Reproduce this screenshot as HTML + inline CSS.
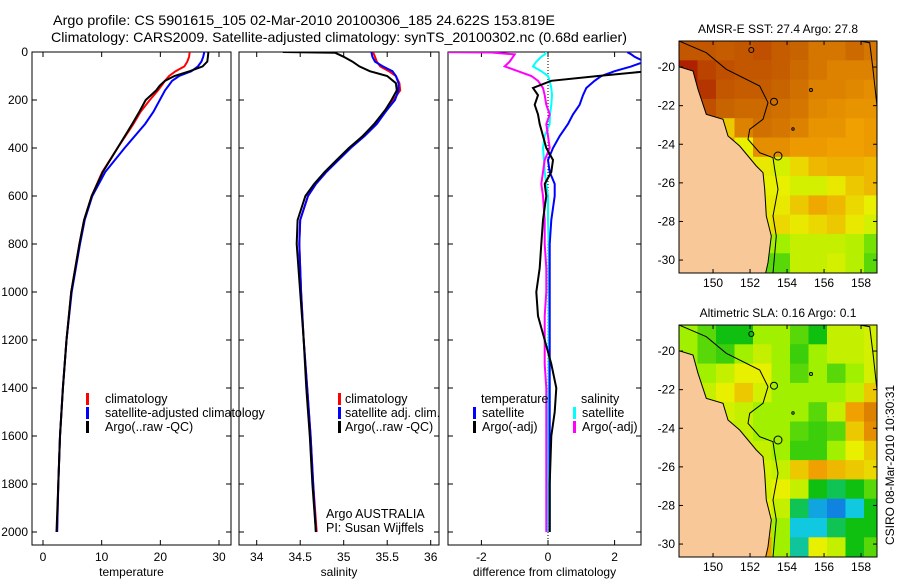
<!DOCTYPE html>
<html><head><meta charset="utf-8">
<style>
html,body{margin:0;padding:0;background:#fff;}
svg{display:block;font-family:"Liberation Sans",sans-serif;}
text{fill:#000;}
</style></head>
<body>
<svg id="chart" width="900" height="580" viewBox="0 0 900 580" xmlns="http://www.w3.org/2000/svg">
<defs>
<clipPath id="c1"><rect x="32" y="52" width="199" height="493"/></clipPath>
<clipPath id="c2"><rect x="239" y="52" width="200" height="493"/></clipPath>
<clipPath id="c3"><rect x="448" y="52" width="193" height="493"/></clipPath>
<clipPath id="cm1"><rect x="679" y="41" width="198" height="232"/></clipPath>
<clipPath id="cm2"><rect x="679" y="325" width="198" height="232"/></clipPath>
</defs>
<text x="53" y="25" font-size="14" textLength="502" lengthAdjust="spacingAndGlyphs">Argo profile: CS 5901615_105 02-Mar-2010 20100306_185 24.622S 153.819E</text>
<text x="51" y="42" font-size="14" textLength="576" lengthAdjust="spacingAndGlyphs">Climatology: CARS2009. Satellite-adjusted climatology: synTS_20100302.nc (0.68d earlier)</text>
<g id="layer"></g>
</svg>
<script>
// ---- data ----
const tDepth=[0,20,40,60,80,100,120,140,160,200,250,300,400,500,600,700,800,1000,1200,1400,1600,1800,2000];
const tArgo=[28.2,28.1,28.0,27.2,25.0,22.4,20.8,19.9,19.3,17.5,16.4,15.2,12.7,10.2,8.3,7.0,6.2,4.8,4.0,3.4,2.9,2.6,2.3];
const tClim=[25.0,24.9,24.6,24.1,22.6,21.5,20.8,20.2,19.6,18.2,16.6,15.4,12.7,10.1,8.3,7.0,6.2,4.8,4.0,3.4,2.9,2.6,2.4];
const tSat=[27.5,27.3,27.0,26.4,25.3,23.2,22.0,21.4,20.8,19.9,18.8,17.4,13.9,10.6,8.4,7.1,6.3,4.9,4.0,3.4,2.9,2.6,2.4];
const sDepth=[0,3,20,40,60,80,100,130,160,200,240,300,350,400,450,500,550,600,700,800,1000,1200,1400,1600,1800,2000];
const sArgo=[34.3,34.9,35.0,35.1,35.18,35.3,35.5,35.6,35.61,35.55,35.48,35.35,35.22,35.06,34.92,34.78,34.66,34.56,34.47,34.46,34.50,34.54,34.57,34.61,34.64,34.68];
const sClim=[35.34,35.34,35.36,35.38,35.42,35.52,35.6,35.64,35.65,35.57,35.5,35.36,35.22,35.07,34.93,34.8,34.68,34.59,34.5,34.49,34.51,34.54,34.58,34.62,34.65,34.69];
const sSat=[35.32,35.32,35.33,35.36,35.45,35.56,35.6,35.63,35.63,35.59,35.5,35.38,35.24,35.08,34.94,34.8,34.68,34.59,34.5,34.49,34.51,34.54,34.58,34.62,34.65,34.68];
const dDepth=[0,2,10,20,40,60,80,100,120,150,180,220,260,300,350,400,450,500,550,600,700,800,900,1000,1100,1200,1300,1400,1500,1600,1800,2000];
const dTempArgo=[3.5,3.5,3.5,3.5,3.5,3.5,3.0,1.5,0.1,-0.45,-0.3,-0.4,-0.3,-0.25,-0.15,-0.05,0.15,0.1,-0.1,-0.05,-0.15,-0.2,-0.25,-0.35,-0.3,-0.1,0.1,0.25,0.2,0.1,0.05,0.05];
const dTempSat=[2.4,2.4,2.5,2.6,2.9,2.5,2.0,1.6,1.4,1.15,1.05,0.95,0.75,0.6,0.35,0.15,0.0,0.05,0.2,0.2,0.1,0.05,0.05,0.05,0.05,0.05,0.05,0.05,0.05,0.05,0.05,0.05];
const dSalArgo=[-3.2,-1.7,-1.0,-1.05,-1.15,-1.3,-0.9,-0.5,-0.3,-0.15,-0.1,-0.05,0.05,-0.05,0.0,0.05,-0.1,-0.15,-0.2,-0.15,-0.1,-0.1,-0.05,-0.05,-0.1,-0.1,-0.1,-0.05,-0.05,-0.05,-0.05,-0.05];
const dSalSat=[-0.06,-0.06,-0.1,-0.2,-0.35,-0.45,-0.2,0.0,0.05,0.1,0.12,0.1,0.06,0.05,-0.1,-0.15,-0.12,-0.1,-0.05,0.0,0.0,0.02,0.02,0.02,0.02,0.02,0.02,0.02,0.0,0.0,0.0,-0.02];
const depthTicks=[0,200,400,600,800,1000,1200,1400,1600,1800,2000];
const tTicks=[0,10,20,30];
const sTicks=[34,34.5,35,35.5,36];
const sTickLabels=["34","34.5","35","35.5","36"];
const dTicks=[-2,0,2];
const lonTicks=[150,152,154,156,158];
const latTicks=[-20,-22,-24,-26,-28,-30];
const sstGrid=[
[.87,.87,.86,.87,.88,.86,.85,.82,.82,.84,.82],
[.95,.9,.88,.87,.87,.86,.84,.82,.80,.80,.80],
[.95,.92,.87,.86,.86,.85,.83,.80,.80,.79,.78],
[.95,.88,.85,.84,.84,.83,.82,.79,.78,.77,.77],
[.9,.85,.7,.8,.83,.82,.8,.77,.77,.75,.76],
[.8,.8,.75,.65,.78,.78,.76,.76,.75,.75,.76],
[.7,.7,.7,.66,.66,.62,.68,.72,.73,.73,.72],
[.7,.7,.7,.66,.65,.65,.62,.62,.66,.7,.72],
[.7,.7,.7,.66,.66,.66,.7,.74,.72,.68,.65],
[.7,.7,.7,.66,.66,.68,.66,.68,.7,.66,.62],
[.6,.6,.6,.6,.55,.55,.6,.6,.6,.58,.52],
[.6,.6,.6,.5,.5,.5,.6,.6,.62,.58,.5]];
const slaGrid=[
[.55,.5,.45,.45,.55,.55,.5,.45,.6,.6,.62],
[.55,.5,.48,.55,.6,.55,.48,.55,.6,.6,.62],
[.55,.55,.6,.65,.65,.55,.5,.55,.5,.55,.62],
[.55,.6,.65,.7,.62,.55,.55,.55,.55,.6,.7],
[.6,.6,.62,.6,.55,.55,.55,.5,.6,.75,.8],
[.6,.6,.6,.6,.55,.55,.5,.48,.5,.7,.78],
[.6,.6,.6,.6,.6,.55,.48,.48,.55,.65,.7],
[.62,.62,.62,.62,.62,.6,.7,.75,.72,.7,.68],
[.62,.62,.62,.62,.62,.65,.6,.45,.4,.45,.5],
[.65,.65,.65,.65,.65,.6,.4,.25,.2,.3,.45],
[.7,.7,.7,.7,.7,.55,.3,.3,.4,.45,.45],
[.75,.75,.75,.75,.75,.55,.35,.65,.6,.45,.5]];

const NS="http://www.w3.org/2000/svg";
const layer=document.getElementById('layer');
function mk(tag,attrs,parent){const e=document.createElementNS(NS,tag);for(const k in attrs)e.setAttribute(k,attrs[k]);(parent||layer).appendChild(e);return e;}
function txt(x,y,s,size,anchor,parent){const t=mk('text',{x:x,y:y,'font-size':size,'text-anchor':anchor||'start'},parent);t.textContent=s;return t;}

const Y0=52,Y1=532;
function yD(d){return Y0+(d/2000)*(Y1-Y0);}

function panel(name,x0,x1,xs,ticks,labels,xlabel,clip,yLabels){
  const g=mk('g',{});
  
  
  const r=mk('rect',{x:x0,y:52,width:x1-x0,height:493,fill:'none',stroke:'#000','stroke-width':1},g);
  
  
  ticks.forEach((v,i)=>{const x=xs(v);
    mk('line',{x1:x,x2:x,y1:545,y2:540,stroke:'#000'},g);
    mk('line',{x1:x,x2:x,y1:52,y2:57,stroke:'#000'},g);
    const t=txt(x,561,labels[i],12,'middle',g);
    
    
  });
  depthTicks.forEach(d=>{const y=yD(d);
    mk('line',{x1:x0,x2:x0+5,y1:y,y2:y,stroke:'#000'},g);
    mk('line',{x1:x1,x2:x1-5,y1:y,y2:y,stroke:'#000'},g);
    if(yLabels){const t=txt(28,y+4,String(d),12,'end',g);
      
      }
  });
  const xl=txt((x0+x1)/2,576,xlabel,12,'middle',g);
  
  
  return mk('g',{'clip-path':'url(#'+clip+')'},g);
}
function series(g,vals,depths,xs,color,w,name){
  const pts=vals.map((v,i)=>xs(v).toFixed(1)+','+yD(depths[i]).toFixed(1)).join(' ');
  const p=mk('polyline',{points:pts,fill:'none',stroke:color,'stroke-width':w,'stroke-linejoin':'miter'},g);
  
  
}
function legend(x,y,color,label,name,tx){
  const r=mk('rect',{x:x,y:y-10,width:3,height:12,fill:color});
  
  
  const t=txt(tx!==undefined?tx:x+20,y,label,12.5,'start');
  
  
}

const xT=v=>43+v*5.867;
const g1=panel('temperature',32,231,xT,tTicks,tTicks.map(String),'temperature','c1',true);
series(g1,tClim,tDepth,xT,'#ff0000',2,'climatology-temp-line');
series(g1,tSat,tDepth,xT,'#0000ff',2,'satellite-temp-line');
series(g1,tArgo,tDepth,xT,'#000000',2,'argo-temp-line');
legend(86,403,'#ff0000','climatology','legend-climatology',105);
legend(86,417,'#0000ff','satellite-adjusted climatology','legend-satellite-adjusted',105);
legend(86,431,'#000000','Argo(..raw -QC)','legend-argo-raw',105);

const xS=v=>256.7+(v-34)*87;
const g2=panel('salinity',239,439,xS,sTicks,sTickLabels,'salinity','c2',false);
series(g2,sClim,sDepth,xS,'#ff0000',2,'climatology-sal-line');
series(g2,sSat,sDepth,xS,'#0000ff',2,'satellite-sal-line');
series(g2,sArgo,sDepth,xS,'#000000',2,'argo-sal-line');
legend(338,403,'#ff0000','climatology','legend2-climatology',345);
legend(338,417,'#0000ff','satellite adj. clim.','legend2-satellite',345);
legend(338,431,'#000000','Argo(..raw -QC)','legend2-argo',345);
let t=txt(326,518,'Argo AUSTRALIA',12.5);


t=txt(326,532,'PI: Susan Wijffels',12.5);



const xDf=v=>548+v*33.3;
const g3=panel('difference',448,641,xDf,dTicks,dTicks.map(String),'difference from climatology','c3',false);
mk('line',{x1:548,x2:548,y1:52,y2:545,stroke:'#000','stroke-dasharray':'1,2'},g3);
series(g3,dSalSat,dDepth,xDf,'#00ffff',2,'sal-satellite-diff-line');
series(g3,dSalArgo,dDepth,xDf,'#ff00ff',2,'sal-argo-diff-line');
series(g3,dTempSat,dDepth,xDf,'#0000ff',2,'temp-satellite-diff-line');
series(g3,dTempArgo,dDepth,xDf,'#000000',2,'temp-argo-diff-line');
t=txt(481,403,'temperature',12.5);
t=txt(581,403,'salinity',12.5);
legend(473,417,'#0000ff','satellite','legend3-temp-satellite',482);
legend(473,431,'#000000','Argo(-adj)','legend3-temp-argo',482);
legend(573,417,'#00ffff','satellite','legend3-sal-satellite',582);
legend(573,431,'#ff00ff','Argo(-adj)','legend3-sal-argo',582);

const stops=[[0,[0,0,192]],[0.15,[16,96,224]],[0.3,[16,200,224]],[0.45,[16,192,16]],[0.55,[160,240,0]],[0.65,[232,240,0]],[0.75,[240,160,0]],[0.85,[200,100,0]],[1,[160,0,0]]];
function cmap(v){for(let i=1;i<stops.length;i++){if(v<=stops[i][0]){const a=stops[i-1],b=stops[i],f=(v-a[0])/(b[0]-a[0]);const c=a[1].map((x,k)=>Math.round(x+(b[1][k]-x)*f));return 'rgb('+c.join(',')+')';}}return 'rgb(160,0,0)';}
const LON0=148.16,PXLON=18.5,LAT0=-18.65,PXLAT=19.3;
const coast=[[0,25.7],[14,30],[19,48.3],[27.3,73.3],[44,78.3],[49,95],[60.7,105],[77.3,125],[84,131.7],[85.7,148.3],[87.3,175],[92.3,195],[89,221.7],[86.7,232]];
const iso=[[0,0],[27.3,11.7],[47.3,28.3],[80.7,45],[89,61.7],[84,78.3],[70.7,88.3],[69,98.3],[80.7,111.7],[94,116.7],[95.7,128.3],[99,148.3],[94,175],[97.3,195],[94,232]];
const iso2=[[180.7,0],[190.7,1.7],[194,28.3],[198,65]];
function drawMap(name,top,grid,title){
  const g=mk('g',{});
  
  
  const L=679,W=198,H=232;
  const inner=mk('g',{'clip-path':'url(#'+(top<100?'cm1':'cm2')+')'},g);
  grid.forEach((row,ri)=>row.forEach((v,ci)=>{
    const c=mk('rect',{x:(L+ci*PXLON).toFixed(1),y:(top+ri*PXLAT).toFixed(1),width:PXLON+0.6,height:PXLAT+0.6,fill:cmap(v)},inner);
    
    
  }));
  const pts=coast.map(p=>(L+p[0])+','+(top+p[1])).join(' ')+' '+L+','+(top+H);
  const land=mk('polygon',{points:pts,fill:'#f8c898',stroke:'#000','stroke-width':1},inner);
  
  
  mk('polyline',{points:iso.map(p=>(L+p[0])+','+(top+p[1])).join(' '),fill:'none',stroke:'#000','stroke-width':1},inner);
  mk('polyline',{points:iso2.map(p=>(L+p[0])+','+(top+p[1])).join(' '),fill:'none',stroke:'#000','stroke-width':1},inner);
  [[99,115,4],[95,60.7,3.5],[72.3,9,2.5],[132,49,1.5],[114,88,1.2]].forEach(c=>{
    mk('circle',{cx:L+c[0],cy:top+c[1],r:c[2],fill:'none',stroke:'#000'},inner);
  });
  const fr=mk('rect',{x:L,y:top,width:W,height:H,fill:'none',stroke:'#000'},g);
  
  
  lonTicks.forEach(lo=>{const x=L+(lo-LON0)*PXLON;
    mk('line',{x1:x,x2:x,y1:top+H,y2:top+H-4,stroke:'#000'},g);
    mk('line',{x1:x,x2:x,y1:top,y2:top+4,stroke:'#000'},g);
    const tl=txt(x,top+H+14,String(lo),12,'middle',g);
    
    
  });
  latTicks.forEach(la=>{const y=top+(LAT0-la)*PXLAT;
    mk('line',{x1:L,x2:L+4,y1:y,y2:y,stroke:'#000'},g);
    mk('line',{x1:L+W,x2:L+W-4,y1:y,y2:y,stroke:'#000'},g);
    const tl=txt(L-4,y+4,String(la),12,'end',g);
    
    
  });
  const tt=txt(L+W/2,top-8,title,12,'middle',g);
  
  
}
drawMap('sst-map',41,sstGrid,'AMSR-E SST: 27.4 Argo: 27.8');
drawMap('sla-map',325,slaGrid,'Altimetric SLA: 0.16 Argo: 0.1');
const stamp=txt(0,0,'CSIRO 08-Mar-2010 10:30:31',12,'middle');
stamp.setAttribute('transform','translate(894,465) rotate(-90)');


</script>
</body></html>
